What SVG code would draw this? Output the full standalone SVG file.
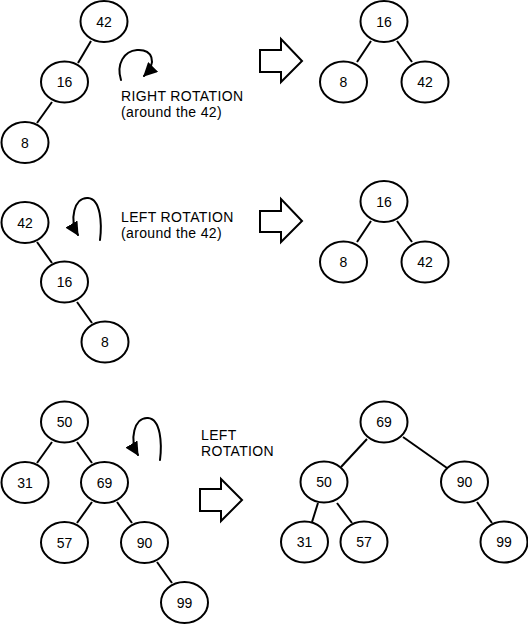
<svg xmlns="http://www.w3.org/2000/svg" width="528" height="624" viewBox="0 0 528 624">
<style>
.n ellipse{fill:#fff;stroke:#000;stroke-width:2}
.n text,.lbl{font-family:"Liberation Sans",Arial,sans-serif;font-size:14px;fill:#000}
.n text{text-anchor:middle}
.lbl{letter-spacing:0.35px}
.e line{stroke:#000;stroke-width:2}
.rot{fill:none;stroke:#000;stroke-width:2;stroke-linecap:round}
.big{fill:#fff;stroke:#000;stroke-width:2;stroke-linejoin:miter}
</style>
<defs>
<marker id="ah" markerUnits="userSpaceOnUse" markerWidth="14" markerHeight="14" refX="11" refY="6" orient="auto" viewBox="0 0 12 12">
<path d="M0,0 L12,6 L0,12 Z" fill="#000"/>
</marker>
</defs>
<rect width="528" height="624" fill="#fff"/>
<g id="connectors" class="e">
<line x1="91" y1="41" x2="78" y2="63"/>
<line x1="52" y1="102" x2="37" y2="123"/>
<line x1="371" y1="41" x2="357" y2="62"/>
<line x1="397" y1="41" x2="412" y2="62"/>
<line x1="37" y1="242" x2="52" y2="263"/>
<line x1="77" y1="302" x2="92" y2="323"/>
<line x1="371" y1="221" x2="357" y2="242"/>
<line x1="397" y1="221" x2="412" y2="242"/>
<line x1="52" y1="442" x2="37" y2="463"/>
<line x1="77" y1="442" x2="92" y2="463"/>
<line x1="92" y1="502" x2="77" y2="523"/>
<line x1="117" y1="502" x2="132" y2="523"/>
<line x1="157" y1="562" x2="172" y2="583"/>
<line x1="367" y1="439" x2="341" y2="467"/>
<line x1="403" y1="437" x2="447" y2="468"/>
<line x1="318" y1="503" x2="312" y2="522"/>
<line x1="337" y1="503" x2="352" y2="523"/>
<line x1="477" y1="502" x2="492" y2="523"/>
</g>
<g id="n42a" class="n"><ellipse cx="104" cy="21.5" rx="23.5" ry="20.5"/><text x="104" y="26.5">42</text></g>
<g id="n16a" class="n"><ellipse cx="64.5" cy="82" rx="23.5" ry="20.5"/><text x="64.5" y="87">16</text></g>
<g id="n8a" class="n"><ellipse cx="25" cy="142.5" rx="23.5" ry="20.5"/><text x="25" y="147.5">8</text></g>
<g id="n16b" class="n"><ellipse cx="384" cy="21.5" rx="23.5" ry="20.5"/><text x="384" y="26.5">16</text></g>
<g id="n8b" class="n"><ellipse cx="343.5" cy="82" rx="23.5" ry="20.5"/><text x="343.5" y="87">8</text></g>
<g id="n42b" class="n"><ellipse cx="425" cy="82" rx="23.5" ry="20.5"/><text x="425" y="87">42</text></g>
<g id="n42c" class="n"><ellipse cx="25" cy="222.5" rx="23.5" ry="20.5"/><text x="25" y="227.5">42</text></g>
<g id="n16c" class="n"><ellipse cx="64.5" cy="282" rx="23.5" ry="20.5"/><text x="64.5" y="287">16</text></g>
<g id="n8c" class="n"><ellipse cx="105" cy="342" rx="23.5" ry="20.5"/><text x="105" y="347">8</text></g>
<g id="n16d" class="n"><ellipse cx="384" cy="201.5" rx="23.5" ry="20.5"/><text x="384" y="206.5">16</text></g>
<g id="n8d" class="n"><ellipse cx="343.5" cy="262" rx="23.5" ry="20.5"/><text x="343.5" y="267">8</text></g>
<g id="n42d" class="n"><ellipse cx="425" cy="262" rx="23.5" ry="20.5"/><text x="425" y="267">42</text></g>
<g id="n50a" class="n"><ellipse cx="64.5" cy="422" rx="23.5" ry="20.5"/><text x="64.5" y="427">50</text></g>
<g id="n31a" class="n"><ellipse cx="25" cy="482.5" rx="23.5" ry="20.5"/><text x="25" y="487.5">31</text></g>
<g id="n69a" class="n"><ellipse cx="104.5" cy="482.5" rx="23.5" ry="20.5"/><text x="104.5" y="487.5">69</text></g>
<g id="n57a" class="n"><ellipse cx="64.5" cy="542.5" rx="23.5" ry="20.5"/><text x="64.5" y="547.5">57</text></g>
<g id="n90a" class="n"><ellipse cx="144.5" cy="542.5" rx="23.5" ry="20.5"/><text x="144.5" y="547.5">90</text></g>
<g id="n99a" class="n"><ellipse cx="184.5" cy="602.5" rx="23.5" ry="20.5"/><text x="184.5" y="607.5">99</text></g>
<g id="n69b" class="n"><ellipse cx="384" cy="422" rx="23.5" ry="20.5"/><text x="384" y="427">69</text></g>
<g id="n50b" class="n"><ellipse cx="324" cy="482" rx="23.5" ry="20.5"/><text x="324" y="487">50</text></g>
<g id="n90b" class="n"><ellipse cx="464.5" cy="482" rx="23.5" ry="20.5"/><text x="464.5" y="487">90</text></g>
<g id="n31b" class="n"><ellipse cx="304.5" cy="542" rx="23.5" ry="20.5"/><text x="304.5" y="547">31</text></g>
<g id="n57b" class="n"><ellipse cx="364" cy="542" rx="23.5" ry="20.5"/><text x="364" y="547">57</text></g>
<g id="n99b" class="n"><ellipse cx="504" cy="542" rx="23.5" ry="20.5"/><text x="504" y="547">99</text></g>
<g id="rotations">
<path class="rot" d="M121,80 C116,64 124,51 137,50 C152,49 158,62 144,76" marker-end="url(#ah)"/>
<path class="rot" d="M100,240 C102,224 101,199 88,198 C74,197 69,220 78,235" marker-end="url(#ah)"/>
<path class="rot" d="M160,460 C162,444 161,419 148,418 C134,417 129,440 138,455" marker-end="url(#ah)"/>
</g>
<g id="bigarrows">
<polygon class="big" points="260,50 281,50 281,39 302,61 281,82 281,72 260,72"/>
<polygon class="big" points="260,211 281,211 281,199 302,221 281,242 281,232 260,232"/>
<polygon class="big" points="200,489 221,489 221,479 242,500 221,521 221,511 200,511"/>
</g>
<g id="labels">
<text class="lbl" x="121" y="101">RIGHT ROTATION</text>
<text class="lbl" x="121" y="117">(around the 42)</text>
<text class="lbl" x="121" y="222">LEFT ROTATION</text>
<text class="lbl" x="121" y="238">(around the 42)</text>
<text class="lbl" x="201" y="440">LEFT</text>
<text class="lbl" x="201" y="456">ROTATION</text>
</g>
</svg>
